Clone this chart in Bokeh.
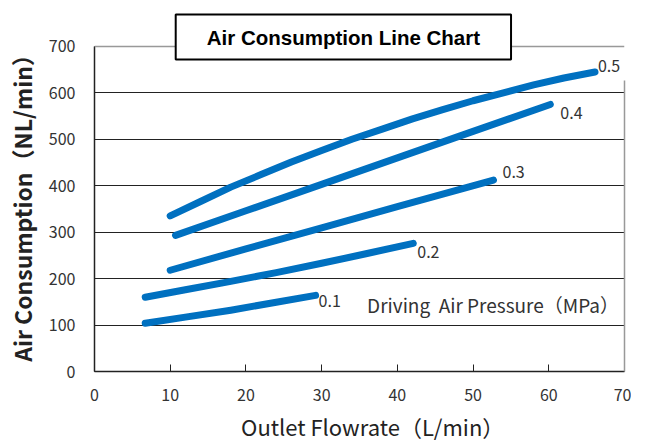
from bokeh.plotting import figure
from bokeh.models import Range1d, FixedTicker, Label, ColumnDataSource, Span, LinearAxis
from bokeh.core.properties import value
from bokeh.embed import file_html
from bokeh.resources import INLINE

# ---- data ----
pressures = ["0.1", "0.2", "0.3", "0.4", "0.5"]
x_01 = [6.7, 12.0, 18.0, 24.0, 29.2]
y_01 = [104, 117, 132, 149, 164]
x_02 = [6.7, 12.0, 18.0, 24.0, 30.0, 36.0, 42.1]
y_02 = [160, 176, 194, 213, 233, 254, 276]
x_03 = [10.0, 20.0, 30.0, 40.0, 52.7]
y_03 = [218, 264, 309, 355, 412]
x_04 = [10.7, 20.0, 30.0, 40.0, 50.0, 60.2]
y_04 = [293, 346, 403, 460, 517, 575]
x_05 = [10.0, 14.0, 18.0, 22.0, 26.0, 30.0, 34.0, 38.0, 42.0, 46.0, 50.0, 54.0, 58.0, 62.0, 66.1]
y_05 = [335, 366, 397, 424, 451, 476, 500, 522, 544, 564, 583, 600, 617, 632, 645]
series_x = [x_01, x_02, x_03, x_04, x_05]
series_y = [y_01, y_02, y_03, y_04, y_05]
x_ticks = [0, 10, 20, 30, 40, 50, 60, 70]
y_ticks = [0, 100, 200, 300, 400, 500, 600, 700]

title_text = "Air Consumption Line Chart"
x_title = "Outlet Flowrate（L/min）"
y_title = "Air Consumption（NL/min）"
note_text = "Driving\u00a0 Air Pressure（MPa）"

# ---- styles / layout ----
LINE_COLOR = "#0070c0"
FONT = "Noto Sans CJK JP"
FRAME_GREY = "#999999"
label_dx = [3, 4, 9, 10, 3]
label_dy = [6, 9, -8, 9, -6]
Y_VIEW_TOP = 777.3      # headroom above the 700 line for the title box
TITLE_POS = (32.87, 720)
NOTE_POS = (36, 145)
RIGHT_BORDER_TOP = 627  # right border stops below the "0.5" label
X_LABEL_PAD = "\u3000\u2009"   # nudges the centred axis titles like the original
Y_LABEL_PAD = "\u3000\u2002"

p = figure(width=631, height=444, output_backend="svg", toolbar_location=None,
           x_range=Range1d(x_ticks[0], x_ticks[-1]), y_range=Range1d(y_ticks[0], Y_VIEW_TOP),
           min_border_left=94, min_border_right=7, min_border_top=10, min_border_bottom=72)
p.background_fill_color = "white"
p.border_fill_color = "white"
p.outline_line_color = None

p.xgrid.visible = False
p.ygrid.ticker = FixedTicker(ticks=y_ticks[1:-1])
p.ygrid.grid_line_color = "#222222"
p.ygrid.grid_line_width = 1

for ax, ticks in ((p.xaxis, x_ticks), (p.yaxis, y_ticks)):
    ax.ticker = FixedTicker(ticks=ticks)
    ax.axis_line_color = "#222222"
    ax.axis_line_width = 1.5
    ax.major_tick_line_color = "#222222"
    ax.major_tick_out = 0
    ax.minor_tick_line_color = None
    ax.major_label_text_font = FONT
    ax.major_label_text_font_size = "16px"
    ax.major_label_text_color = "#333333"
    ax.axis_label_text_font = FONT
    ax.axis_label_text_font_style = "normal"
    ax.axis_label_text_color = "#222222"

p.yaxis.bounds = (y_ticks[0], y_ticks[-1])
p.xaxis.major_tick_in = 7
p.yaxis.major_tick_in = 5
p.xaxis.major_label_standoff = 17
p.yaxis.major_label_standoff = 19
p.xaxis.axis_label = X_LABEL_PAD + x_title
p.yaxis.axis_label = y_title + Y_LABEL_PAD
p.xaxis.axis_label_text_font_size = "22px"
p.yaxis.axis_label_text_font_size = "23px"
p.yaxis.axis_label_text_font_style = "bold"
p.xaxis.axis_label_standoff = 6
p.yaxis.axis_label_standoff = 7

# grey frame: right border and the top line at 700
right = LinearAxis(ticker=FixedTicker(ticks=[]), bounds=(y_ticks[0], RIGHT_BORDER_TOP),
                   axis_line_color=FRAME_GREY, axis_line_width=1.5,
                   major_label_text_font_size="0px", major_tick_line_color=None,
                   minor_tick_line_color=None)
p.add_layout(right, "right")
p.add_layout(Span(location=y_ticks[-1], dimension="width", line_color=FRAME_GREY, line_width=1.5))

for xs, ys in zip(series_x, series_y):
    p.line(xs, ys, line_color=LINE_COLOR, line_width=7, line_cap="round", line_join="round")

lab_src = ColumnDataSource(dict(
    x=[s[-1] for s in series_x], y=[s[-1] for s in series_y], text=pressures,
    dx=label_dx, dy=label_dy))
p.text(x="x", y="y", text="text", source=lab_src, x_offset="dx", y_offset="dy",
       text_font=value(FONT), text_font_size="16px", text_color="#333333",
       text_align="left", text_baseline="middle")

p.add_layout(Label(x=NOTE_POS[0], y=NOTE_POS[1], text=note_text, text_font=FONT,
                   text_font_size="19px", text_color="#333333",
                   text_align="left", text_baseline="middle"))

p.add_layout(Label(x=TITLE_POS[0], y=TITLE_POS[1], text=title_text,
                   text_font="Liberation Sans",
                   text_font_size="20.5px", text_font_style="bold", text_color="black",
                   text_align="center", text_baseline="middle",
                   background_fill_color="white", border_line_color="black", border_line_width=2,
                   padding=dict(left=31, right=31, top=11, bottom=11)))

open("out.html", "w").write(file_html(p, INLINE))
